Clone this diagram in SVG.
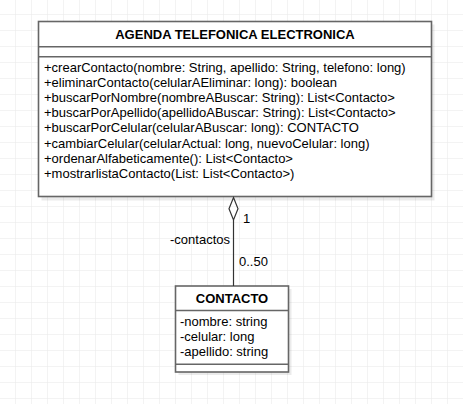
<svg xmlns="http://www.w3.org/2000/svg" width="463" height="404" viewBox="0 0 463 404">
<defs>
<pattern id="grid" x="15" y="14" width="16" height="16" patternUnits="userSpaceOnUse">
<path d="M0 0 H16 M0 0 V16" fill="none" stroke="#e8e8e8" stroke-width="1"/>
</pattern>
</defs>
<style>
.box{fill:#fff;stroke:#666;stroke-width:1.6}
.shadow{fill:#000;fill-opacity:0.08}
.sep{stroke:#666;stroke-width:1.6}
.t{font-family:"Liberation Sans",Arial,sans-serif;font-size:13px;fill:#000}
.h{font-family:"Liberation Sans",Arial,sans-serif;font-size:13px;font-weight:bold;fill:#000;text-anchor:middle}
.edge{stroke:#333;stroke-width:1.2;fill:none}
</style>
<rect width="463" height="404" fill="#fff"/>
<rect width="463" height="404" fill="url(#grid)"/>
<g id="agenda">
<rect class="shadow" x="41.5" y="24.5" width="393" height="176"/>
<rect class="box" x="38.5" y="21.5" width="393" height="175"/>
<line class="sep" x1="38.5" y1="46.7" x2="431.5" y2="46.7"/>
<line class="sep" x1="38.5" y1="56.7" x2="431.5" y2="56.7"/>
<text class="h" x="235" y="38.8">AGENDA TELEFONICA ELECTRONICA</text>
<text class="t" x="44" y="71.5">+crearContacto(nombre: String, apellido: String, telefono: long)</text>
<text class="t" x="44" y="86.7">+eliminarContacto(celularAEliminar: long): boolean</text>
<text class="t" x="44" y="101.9">+buscarPorNombre(nombreABuscar: String): List&lt;Contacto&gt;</text>
<text class="t" x="44" y="117.1">+buscarPorApellido(apellidoABuscar: String): List&lt;Contacto&gt;</text>
<text class="t" x="44" y="132.3">+buscarPorCelular(celularABuscar: long): CONTACTO</text>
<text class="t" x="44" y="147.5">+cambiarCelular(celularActual: long, nuevoCelular: long)</text>
<text class="t" x="44" y="162.7">+ordenarAlfabeticamente(): List&lt;Contacto&gt;</text>
<text class="t" x="44" y="177.9">+mostrarlistaContacto(List: List&lt;Contacto&gt;)</text>
</g>
<g id="contacto">
<rect class="shadow" x="178.5" y="289" width="113" height="86"/>
<rect class="box" x="175.5" y="286" width="113" height="86"/>
<line class="sep" x1="175.5" y1="310.5" x2="288.5" y2="310.5"/>
<line class="sep" x1="175.5" y1="364.3" x2="288.5" y2="364.3"/>
<text class="h" x="232" y="302.8">CONTACTO</text>
<text class="t" x="180" y="326.3">-nombre: string</text>
<text class="t" x="180" y="341.3">-celular: long</text>
<text class="t" x="180" y="356.3">-apellido: string</text>
</g>
<g id="connectors">
<line class="edge" x1="233.5" y1="220" x2="233.5" y2="286"/>
<path class="edge" d="M233.5 197.5 L238 208.7 L233.5 220 L229 208.7 Z" fill="#fff"/>
<text class="t" x="243" y="222.5">1</text>
<text class="t" x="230" y="243.8" text-anchor="end">-contactos</text>
<text class="t" x="239" y="266.3">0..50</text>
</g>
</svg>
